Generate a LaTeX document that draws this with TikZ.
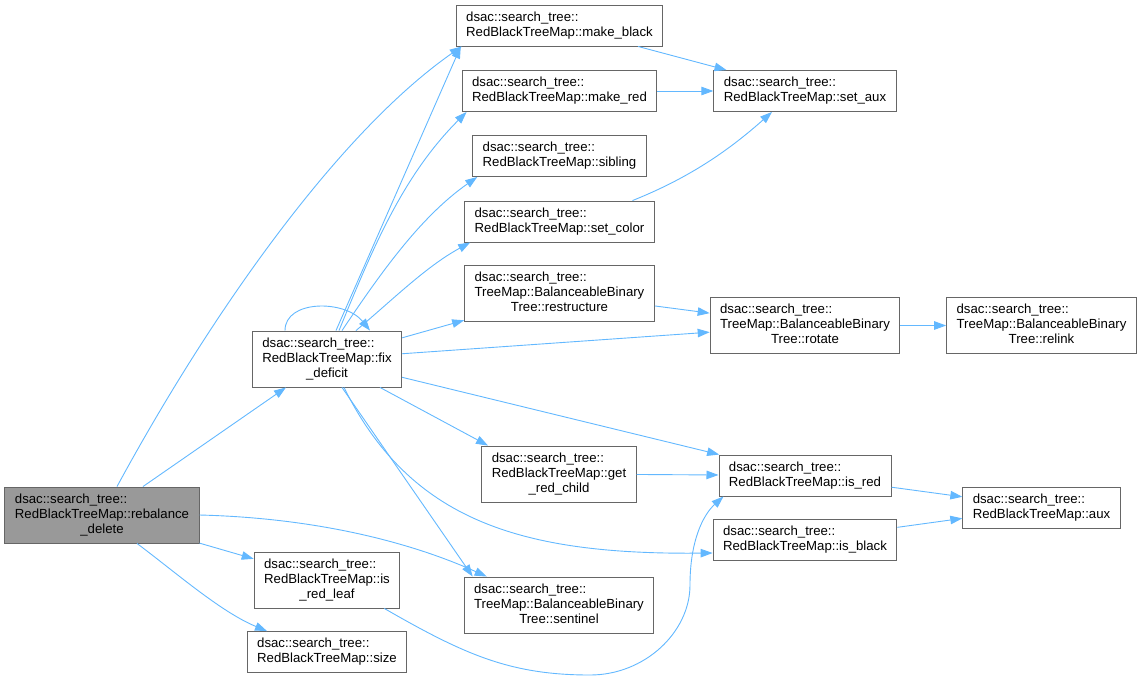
\documentclass[tikz,border=0pt]{standalone}
\usepackage{fontspec}
\setmainfont{Liberation Sans}
\usetikzlibrary{arrows.meta}
\definecolor{callblue}{HTML}{63B8FF}
\definecolor{boxgray}{HTML}{666666}
\definecolor{mainfill}{HTML}{999999}
\newcommand{\twoline}[2]{\begin{tabular}{@{}l@{}}#1\\#2\end{tabular}}
\newcommand{\threeline}[3]{\begin{tabular}{@{}l@{}}#1\\#2\\\multicolumn{1}{@{}c@{}}{#3}\end{tabular}}
\newcommand{\ns}{dsac::search\_tree::}

\begin{document}
\begin{tikzpicture}[x=1pt,y=-1pt,
    func/.style={draw=boxgray,line width=0.9pt,fill=white,inner xsep=10pt,inner ysep=5.5pt,
      font=\fontsize{13.2}{15}\selectfont},
    call/.style={draw=callblue,line width=0.9pt,-{Triangle[length=12pt,width=8.5pt]}}]
  \useasboundingbox (0,0) rectangle (1141,681);

  \node[func,fill=mainfill] (rebalancedelete) at (102,515) {\threeline{\ns}{RedBlackTreeMap::rebalance}{\_delete}};
  \node[func] (fixdeficit) at (327,359) {\threeline{\ns}{RedBlackTreeMap::fix}{\_deficit}};
  \node[func] (isredleaf) at (327,580) {\threeline{\ns}{RedBlackTreeMap::is}{\_red\_leaf}};
  \node[func] (size) at (327,652) {\twoline{\ns}{RedBlackTreeMap::size}};
  \node[func] (makeblack) at (559.5,25.5) {\twoline{\ns}{RedBlackTreeMap::make\_black}};
  \node[func] (makered) at (559.5,91) {\twoline{\ns}{RedBlackTreeMap::make\_red}};
  \node[func] (sibling) at (559.5,156) {\twoline{\ns}{RedBlackTreeMap::sibling}};
  \node[func] (setcolor) at (559.5,221.5) {\twoline{\ns}{RedBlackTreeMap::set\_color}};
  \node[func] (restructure) at (559.5,293.5) {\threeline{\ns}{TreeMap::BalanceableBinary}{Tree::restructure}};
  \node[func] (getredchild) at (559,474) {\threeline{\ns}{RedBlackTreeMap::get}{\_red\_child}};
  \node[func] (sentinel) at (559,605) {\threeline{\ns}{TreeMap::BalanceableBinary}{Tree::sentinel}};
  \node[func] (setaux) at (805,91) {\twoline{\ns}{RedBlackTreeMap::set\_aux}};
  \node[func] (rotate) at (805,325.5) {\threeline{\ns}{TreeMap::BalanceableBinary}{Tree::rotate}};
  \node[func] (isred) at (805,475.5) {\twoline{\ns}{RedBlackTreeMap::is\_red}};
  \node[func] (isblack) at (805,540) {\twoline{\ns}{RedBlackTreeMap::is\_black}};
  \node[func] (relink) at (1041.5,325.5) {\threeline{\ns}{TreeMap::BalanceableBinary}{Tree::relink}};
  \node[func] (aux) at (1041.5,507.5) {\twoline{\ns}{RedBlackTreeMap::aux}};

  \draw[call] ([xshift=15]rebalancedelete.north) .. controls +(95,-175) and +(-123,86) .. ([xshift=6]makeblack.south west);
  \draw[call] (rebalancedelete) -- (fixdeficit);
  \draw[call] (rebalancedelete.east) .. controls +(120,3) and +(-73,-33) .. ([xshift=23]sentinel.north west);
  \draw[call] (rebalancedelete) -- (isredleaf);
  \draw[call] ([xshift=35]rebalancedelete.south) .. controls +(40,30) and +(-46,-19) .. ([xshift=-60]size.north);

  \draw[call] ([xshift=-42]fixdeficit.north) .. controls +(0,-31) and +(-25,-31) .. ([xshift=43]fixdeficit.north);
  \draw[call] ([xshift=9]fixdeficit.north) -- ([xshift=5]makeblack.south west);
  \draw[call] ([xshift=12]fixdeficit.north) .. controls +(34,-83) and +(-64,64) .. ([xshift=5]makered.south west);
  \draw[call] ([xshift=15]fixdeficit.north) .. controls +(39,-58) and +(-57,40) .. ([xshift=5]sibling.south west);
  \draw[call] ([xshift=29]fixdeficit.north) .. controls +(38,-32) and +(-44,24) .. ([xshift=6]setcolor.south west);
  \draw[call] (fixdeficit) -- (restructure);
  \draw[call] (fixdeficit) -- (rotate);
  \draw[call] (fixdeficit) -- (isred);
  \draw[call] ([xshift=53]fixdeficit.south) -- ([xshift=-71]getredchild.north);
  \draw[call] ([xshift=15]fixdeficit.south) -- ([xshift=9]sentinel.north west);
  \draw[call] ([xshift=17]fixdeficit.south) .. controls +(66,133) and +(-192,2) .. ([yshift=-13]isblack.west);

  \draw[call] (makeblack) -- (setaux);
  \draw[call] (makered) -- (setaux);
  \draw[call] ([xshift=73]setcolor.north) .. controls +(55,-22) and +(-45,40) .. ([xshift=-33]setaux.south);
  \draw[call] (restructure) -- (rotate);
  \draw[call] (rotate) -- (relink);
  \draw[call] (getredchild) -- (isred);
  \draw[call] (isred) -- (aux);
  \draw[call] (isblack) -- (aux);
  \draw[call] ([xshift=-16]isredleaf.south east) .. controls +(80,46) and +(-80,0) .. (590,675)
    .. controls +(55,0) and +(0,47) .. (690,585) .. controls +(0,-45) and +(-20,18) .. ([xshift=5]isred.south west);
\end{tikzpicture}
\end{document}
